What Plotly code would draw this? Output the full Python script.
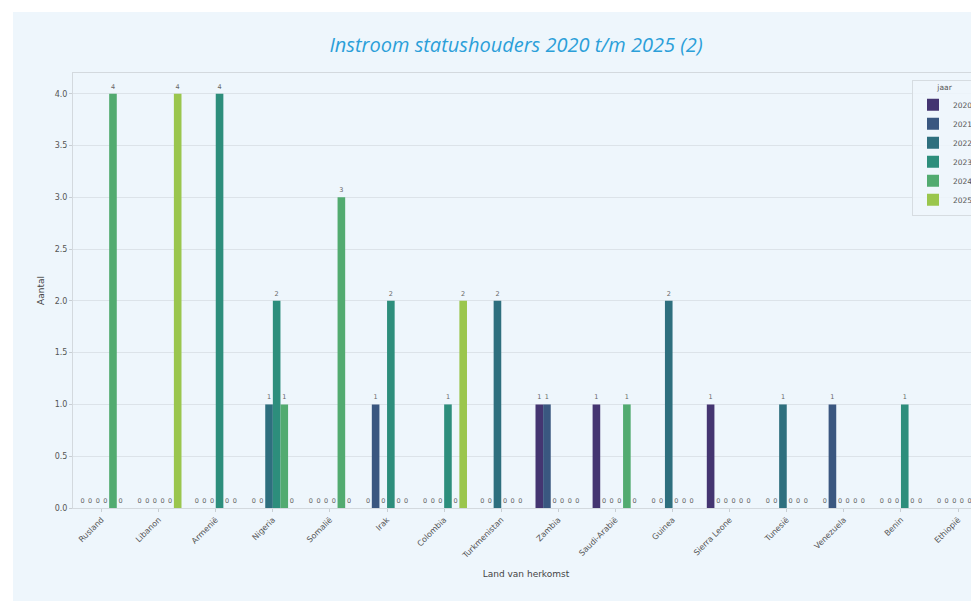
import plotly.graph_objects as go

# ---- data ----
countries = ["Rusland", "Libanon", "Armenië", "Nigeria", "Somalië", "Irak", "Colombia",
             "Turkmenistan", "Zambia", "Saudi-Arabië", "Guinea", "Sierra Leone",
             "Tunesië", "Venezuela", "Benin", "Ethiopië"]
years = ["2020", "2021", "2022", "2023", "2024", "2025"]
v2020 = [0, 0, 0, 0, 0, 0, 0, 0, 1, 1, 0, 1, 0, 0, 0, 0]
v2021 = [0, 0, 0, 0, 0, 1, 0, 0, 1, 0, 0, 0, 0, 1, 0, 0]
v2022 = [0, 0, 0, 1, 0, 0, 0, 2, 0, 0, 2, 0, 1, 0, 0, 0]
v2023 = [0, 0, 4, 2, 0, 2, 1, 0, 0, 0, 0, 0, 0, 0, 1, 0]
v2024 = [4, 0, 0, 1, 3, 0, 0, 0, 0, 1, 0, 0, 0, 0, 0, 0]
v2025 = [0, 4, 0, 0, 0, 0, 2, 0, 0, 0, 0, 0, 0, 0, 0, 1]
series = [v2020, v2021, v2022, v2023, v2024, v2025]
colors = ["#443571", "#3a5780", "#2e6f7e", "#2d8e7c", "#52ab70", "#9ac64d"]
yticks = [0.0, 0.5, 1.0, 1.5, 2.0, 2.5, 3.0, 3.5, 4.0]

# page has an 8px body margin
W, H = 971, 593
ML, MT, MR, MB = 65, 65, 0, 93
PW, PH = W - ML - MR, H - MT - MB
CARD_BG = "#eef6fc"
FONT = "DejaVu Sans"
CAT_STEP = 57.1  # pixel width of one category in the original chart

fig = go.Figure()
for yr, vals, col in zip(years, series, colors):
    fig.add_trace(go.Bar(
        x=countries, y=vals, name=yr, marker=dict(color=col, line=dict(width=0)),
        text=vals, texttemplate="%{text}", textposition="outside",
        textfont=dict(size=6.5, color="#666666", family=FONT), cliponaxis=True,
    ))

# card background
fig.add_shape(type="rect", xref="paper", yref="paper", layer="below",
              x0=(5 - ML) / PW, x1=(W - ML) / PW + 0.02,
              y0=-(H - MT - PH) / PH - 0.02, y1=(PH + MT - 4) / PH,
              fillcolor=CARD_BG, line=dict(width=0))

fig.update_layout(
    width=W, height=H,
    margin=dict(l=ML, r=MR, t=MT, b=MB, pad=0),
    paper_bgcolor="white", plot_bgcolor="rgba(0,0,0,0)",
    barmode="group", bargap=0.2, bargroupgap=0,
    font=dict(family=FONT, size=8, color="#555555"),
    title=dict(text="Instroom statushouders 2020 t/m 2025 (2)",
               x=508 / W, xanchor="center", y=1 - 37 / H, yanchor="middle",
               xref="container", yref="container",
               font=dict(family="Open Sans", size=20, color="#2b9fd9", style="italic")),
    legend=dict(title=dict(text="jaar", side="top center", font=dict(size=7.5, color="#555555")),
                x=1.0, xanchor="right", y=0.985, yanchor="top",
                bgcolor="rgba(238,246,252,0.85)", bordercolor="#d6dce1", borderwidth=1,
                font=dict(size=7.5, color="#555555"), itemwidth=30),
    showlegend=True,
)
fig.update_xaxes(
    range=[-0.5, -0.5 + PW / CAT_STEP], showgrid=False,
    showline=True, linecolor="#d3d9de", linewidth=1, mirror=True,
    ticks="outside", ticklen=3, tickcolor="#c8ced3", tickangle=-45,
    tickfont=dict(size=8, color="#555555"),
    title=dict(text="Land van herkomst", font=dict(size=9, color="#444444"), standoff=10),
)
fig.update_yaxes(
    range=[0, 4.2], tickvals=yticks, tickformat=".1f",
    showgrid=True, gridcolor="#dce3e9", gridwidth=1, zeroline=False,
    showline=True, linecolor="#d3d9de", linewidth=1,
    ticks="outside", ticklen=3, tickcolor="#c8ced3",
    tickfont=dict(size=8, color="#555555"),
    title=dict(text="Aantal", font=dict(size=9, color="#444444"), standoff=8),
)

fig.write_html("out.html")
